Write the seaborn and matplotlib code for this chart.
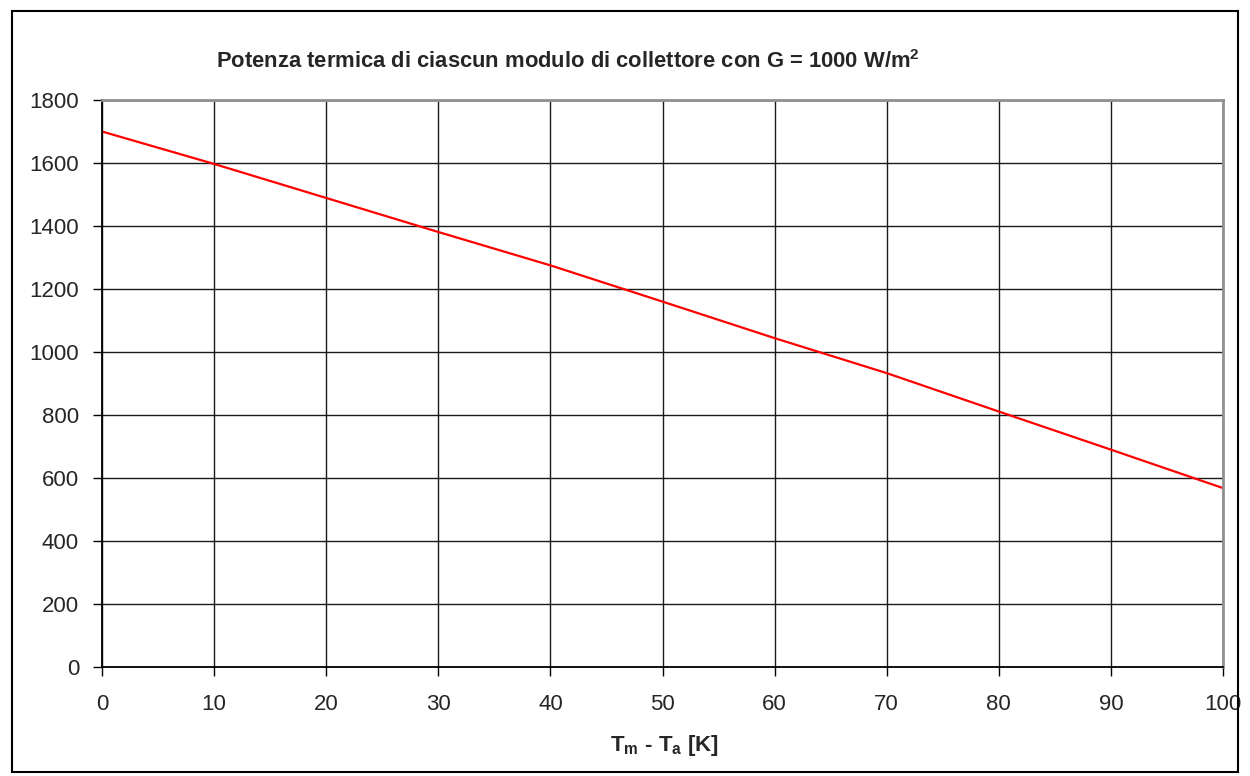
import matplotlib
matplotlib.use("Agg")
import matplotlib.pyplot as plt
import seaborn as sns
import pandas as pd
from matplotlib.patches import Rectangle

# values
delta_t = [0, 10, 20, 30, 40, 50, 60, 70, 80, 90, 100]
potenza = [1700, 1597, 1489, 1381, 1275, 1160, 1044, 933, 811, 690, 568]
x_ticks = list(range(0, 101, 10))
y_ticks = list(range(0, 1801, 200))

df = pd.DataFrame({"dT": delta_t, "P": potenza})

sns.set_style("white")
plt.rcParams["font.family"] = ["Liberation Sans", "DejaVu Sans"]
plt.rcParams["mathtext.fontset"] = "custom"
plt.rcParams["mathtext.rm"] = "Liberation Sans"
plt.rcParams["mathtext.bf"] = "Liberation Sans:bold"

fig = plt.figure(figsize=(12.5, 7.76), dpi=100)
ax = fig.add_axes([102 / 1250, 1 - 667 / 776, 1121 / 1250, 567 / 776])

sns.lineplot(data=df, x="dT", y="P", color="red", linewidth=1.6, ax=ax)

ax.set_xlim(0, 100)
ax.set_ylim(0, 1800)
ax.set_xticks(x_ticks)
ax.set_yticks(y_ticks)
ax.grid(True, color="#1a1a1a", linewidth=1.0)
ax.set_axisbelow(True)

for side in ["left", "bottom"]:
    ax.spines[side].set_color("black")
    ax.spines[side].set_linewidth(1.3)
for side in ["top", "right"]:
    ax.spines[side].set_color("#909090")
    ax.spines[side].set_linewidth(2.0)

ax.tick_params(axis="y", direction="out", length=6.5, width=1, color="black",
               labelsize=16, pad=10, left=True)
ax.tick_params(axis="x", direction="out", length=6.5, width=1, color="black",
               labelsize=16, pad=13, bottom=True)

ax.set_xlabel("")
ax.set_ylabel("")

fig.text(568 / 1250, 1 - 62 / 776,
         "Potenza termica di ciascun modulo di collettore con G = 1000 W/m$\\mathbf{^2}$",
         ha="center", va="center", fontsize=15.8, fontweight="bold")
fig.text(664 / 1250, 1 - 745 / 776,
         "T$_\\mathbf{m}$ - T$_\\mathbf{a}$ [K]",
         ha="center", va="center", fontsize=16, fontweight="bold")

# outer chart border
fig.add_artist(Rectangle((12 / 1250, 4 / 776), 1226 / 1250, 761 / 776,
                         transform=fig.transFigure, fill=False,
                         edgecolor="black", linewidth=1.5))

fig.savefig("out.png", dpi=100)
